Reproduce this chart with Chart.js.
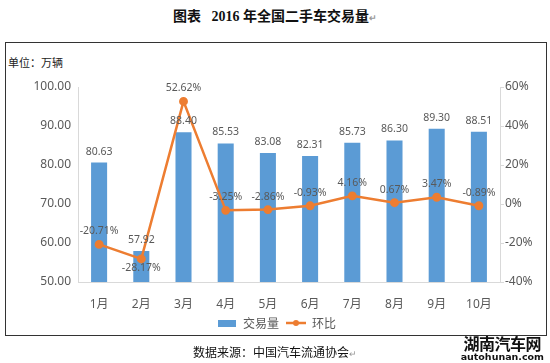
<!DOCTYPE html>
<html>
<head>
<meta charset="utf-8">
<script src="https://cdn.jsdelivr.net/npm/chart.js@4"></script>
<style>
  html, body { margin: 0; padding: 0; background: #fff; }
  body { width: 550px; height: 363px; position: relative; overflow: hidden;
         font-family: "Noto Sans CJK SC", "Noto Sans", sans-serif; }
  #title { position: absolute; left: 0; width: 550px; top: 5px; text-align: center;
           font: bold 14px "Liberation Serif", "Noto Sans CJK SC", serif; color: #111; }
  #frame { position: absolute; left: 5px; top: 42px; width: 540px; height: 292px;
           border: 1.5px solid #333; }
  #unit { position: absolute; left: 8px; top: 54px; font-size: 11px; color: #222; }
  #source { position: absolute; left: 0; width: 550px; top: 343px; text-align: center;
            font-size: 12px; color: #111; }
  .ret { color: #999; font-size: 9px; }
  #wm { position: absolute; right: 6px; top: 335px; text-align: center; line-height: 1; color: #111; }
  #wm .a { font-size: 16px; font-weight: bold; letter-spacing: -0.5px; }
  #wm .b { font: bold 9.5px "DejaVu Sans", sans-serif; }
  #c { position: absolute; left: 0; top: 0; }
</style>
</head>
<body>
<div id="title">图表&nbsp;&nbsp; 2016 年全国二手车交易量<span class="ret">↵</span></div>
<div id="frame"></div>
<div id="unit">单位：万辆</div>
<canvas id="c" width="550" height="363"></canvas>
<div id="source">数据来源：中国汽车流通协会<span class="ret">↵</span></div>
<div id="wm"><div class="a">湖南汽车网</div><div class="b">autohunan.com</div></div>
<script>
const months = ["1月", "2月", "3月", "4月", "5月", "6月", "7月", "8月", "9月", "10月"];
const volume = [80.63, 57.92, 88.40, 85.53, 83.08, 82.31, 85.73, 86.30, 89.30, 88.51];
const momPct = [-20.71, -28.17, 52.62, -3.25, -2.86, -0.93, 4.16, 0.67, 3.47, -0.89];

const BLUE = "#5B9BD5";
const ORANGE = "#ED7D31";
const GREY = "#595959";
const AXIS = "#d9d9d9";
const FONT = '"Noto Sans", "Noto Sans CJK SC", sans-serif';

// legend swatches
function swatch(w, h, draw) {
  const cv = document.createElement("canvas");
  cv.width = w; cv.height = h;
  draw(cv.getContext("2d"));
  return cv;
}
const barSwatch = swatch(18, 7, g => { g.fillStyle = BLUE; g.fillRect(0, 0, 18, 7); });
const lineSwatch = swatch(20, 8, g => {
  g.strokeStyle = ORANGE; g.lineWidth = 2.5;
  g.beginPath(); g.moveTo(0, 4); g.lineTo(20, 4); g.stroke();
  g.fillStyle = ORANGE; g.beginPath(); g.arc(10, 4, 3, 0, Math.PI * 2); g.fill();
});

// value labels on bars and points
const valueLabels = {
  id: "valueLabels",
  afterDatasetsDraw(chart, args, opts) {
    const ctx = chart.ctx;
    ctx.save();
    ctx.fillStyle = GREY;
    ctx.font = "10.5px " + FONT;
    ctx.textAlign = "center";
    ctx.textBaseline = "middle";
    chart.getDatasetMeta(1).data.forEach((el, i) => {
      ctx.fillText(volume[i].toFixed(2), el.x, el.y - 11);
    });
    chart.getDatasetMeta(0).data.forEach((el, i) => {
      const dy = opts.below.includes(i) ? 9 : -13;
      ctx.fillText(momPct[i].toFixed(2) + "%", el.x, el.y + dy);
    });
    ctx.restore();
  }
};

new Chart(document.getElementById("c"), {
  data: {
    labels: months,
    datasets: [
      {
        type: "line", label: "环比", data: momPct, yAxisID: "y1",
        borderColor: ORANGE, backgroundColor: ORANGE, borderWidth: 2.5,
        pointRadius: 3.2, pointHoverRadius: 3.2, tension: 0, order: 0
      },
      {
        type: "bar", label: "交易量", data: volume, yAxisID: "y",
        backgroundColor: BLUE, categoryPercentage: 1, barPercentage: 0.38, order: 1
      }
    ]
  },
  options: {
    responsive: false,
    animation: false,
    layout: { padding: { left: 8, right: 5, top: 87, bottom: 24 } },
    scales: {
      x: {
        grid: { display: false },
        border: { display: true, color: AXIS },
        ticks: { color: GREY, font: { family: FONT, size: 12 }, padding: 7 },
        afterFit: s => { s.height = 28; }
      },
      y: {
        position: "left", min: 50, max: 100,
        grid: { display: false, drawTicks: false, tickLength: 0 },
        border: { display: true, color: AXIS },
        ticks: { stepSize: 10, color: GREY, padding: 7, font: { family: FONT, size: 12 },
                 callback: v => v.toFixed(2) },
        afterFit: s => { s.width = 70; }
      },
      y1: {
        position: "right", min: -40, max: 60,
        grid: { display: true, drawOnChartArea: false, drawTicks: true, tickLength: 4, color: AXIS },
        border: { display: true, color: AXIS },
        ticks: { stepSize: 20, color: GREY, padding: 1, font: { family: FONT, size: 12 },
                 callback: v => v + "%" },
        afterFit: s => { s.width = 45; }
      }
    },
    plugins: {
      tooltip: { enabled: false },
      valueLabels: { below: [1] },
      legend: {
        position: "bottom",
        reverse: true,
        labels: {
          usePointStyle: true, pointStyleWidth: 20, padding: 7,
          color: GREY, font: { family: '"Noto Sans CJK SC", sans-serif', size: 12 },
          generateLabels(chart) {
            return Chart.defaults.plugins.legend.labels.generateLabels(chart).map(it => {
              it.pointStyle = it.datasetIndex === 0 ? lineSwatch : barSwatch;
              it.lineWidth = 0;
              return it;
            });
          }
        }
      }
    }
  },
  plugins: [valueLabels]
});
</script>
</body>
</html>
